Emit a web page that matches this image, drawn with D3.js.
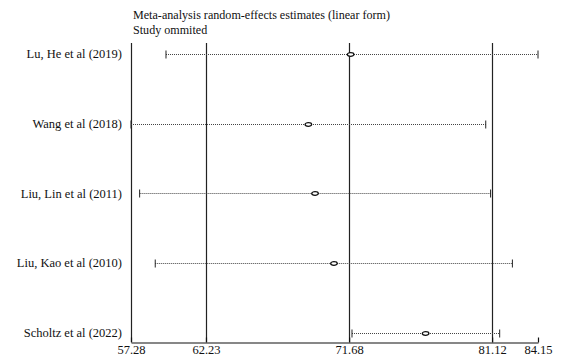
<!DOCTYPE html>
<html lang='en'>
  <head>
    <meta charset='utf-8'>
    <title>Study omitted</title>
    <script type='text/javascript' src='https://cdn.jsdelivr.net/npm/d3@7'></script>
    <style type='text/css'>
      body { margin: 0; background: white; }
      svg { display: block; background-color: white; font-family: 'Liberation Serif', 'DejaVu Serif', serif; }
    </style>
  </head>
  <body>
    <div id='chart'></div>
    <script type='text/javascript'>

    // Data
    var studies = ['Lu, He et al (2019)', 'Wang et al (2018)', 'Liu, Lin et al (2011)', 'Liu, Kao et al (2010)', 'Scholtz et al (2022)'];
    var estimates = [71.78, 68.99, 69.43, 70.68, 76.73];
    var lowers = [59.59, 57.28, 57.85, 58.88, 71.87];
    var uppers = [84.15, 80.70, 81.02, 82.46, 81.62];
    var refLines = [57.28, 62.23, 71.68, 81.12];
    var tickValues = [57.28, 62.23, 71.68, 81.12, 84.15];
    var titleLines = ['Meta-analysis random-effects estimates (linear form)', 'Study ommited'];

    // Dimensions
    var W = 571, H = 363;
    var margin = { top: 43, left: 131, right: 33, bottom: 21 };
    var plotBottom = H - margin.bottom;
    var fs = '12.5px';

    var svg = d3.select('#chart')
      .append('svg')
      .attr('width', W)
      .attr('height', H);

    // Scales
    var x = d3.scaleLinear()
      .domain([57.28, 84.15])
      .range([margin.left, W - margin.right]);

    var y = d3.scalePoint()
      .domain(studies)
      .range([54, 332.5]);

    // title
    svg.selectAll('text.title')
      .data(titleLines)
      .enter()
      .append('text')
      .attr('class', 'title')
      .attr('x', 133)
      .attr('y', function(d, i) { return 19 + i * 14.5; })
      .style('font-size', '12.1px')
      .attr('fill', '#111')
      .text(function(d) { return d; });

    // reference vertical lines
    svg.append('g').selectAll('line')
      .data(refLines)
      .enter()
      .append('line')
      .attr('x1', function(d) { return Math.round(x(d)) + 0.5; })
      .attr('x2', function(d) { return Math.round(x(d)) + 0.5; })
      .attr('y1', margin.top)
      .attr('y2', plotBottom)
      .attr('stroke', '#222')
      .attr('stroke-width', 1.2);

    // x axis
    var xAxis = d3.axisBottom(x)
      .tickValues(tickValues)
      .tickFormat(d3.format('.2f'))
      .tickSizeInner(-5)
      .tickSizeOuter(0);

    var gx = svg.append('g')
      .attr('transform', 'translate(0,' + (plotBottom + 0.5) + ')')
      .call(xAxis);
    gx.select('.domain').attr('stroke', '#111').attr('stroke-width', 1.2);
    gx.selectAll('.tick line').attr('stroke', '#111').attr('stroke-width', 1.2);
    gx.selectAll('.tick text')
      .attr('y', 3)
      .attr('dy', '0.71em')
      .attr('fill', '#111')
      .style('font-family', "'Liberation Serif', serif")
      .style('font-size', fs);

    // study labels
    svg.append('g').selectAll('text')
      .data(studies)
      .enter()
      .append('text')
      .attr('x', 122)
      .attr('y', function(d) { return y(d); })
      .attr('dy', '0.35em')
      .attr('text-anchor', 'end')
      .style('font-size', fs)
      .attr('fill', '#111')
      .text(function(d) { return d; });

    // confidence intervals
    var rows = svg.append('g').selectAll('g')
      .data(studies)
      .enter()
      .append('g')
      .attr('transform', function(d) { return 'translate(0,' + (Math.round(y(d)) + 0.5) + ')'; });

    rows.append('line')
      .attr('x1', function(d, i) { return x(lowers[i]); })
      .attr('x2', function(d, i) { return x(uppers[i]); })
      .attr('stroke', '#444')
      .attr('stroke-width', 1)
      .attr('stroke-dasharray', '1,1');

    rows.append('line')
      .attr('class', 'cap')
      .attr('x1', function(d, i) { return x(lowers[i]); })
      .attr('x2', function(d, i) { return x(lowers[i]); })
      .attr('y1', -4).attr('y2', 4)
      .attr('stroke', '#222');

    rows.append('line')
      .attr('class', 'cap')
      .attr('x1', function(d, i) { return x(uppers[i]); })
      .attr('x2', function(d, i) { return x(uppers[i]); })
      .attr('y1', -4).attr('y2', 4)
      .attr('stroke', '#222');

    rows.append('ellipse')
      .attr('cx', function(d, i) { return x(estimates[i]); })
      .attr('cy', 0)
      .attr('rx', 3.3)
      .attr('ry', 1.8)
      .attr('fill', 'white')
      .attr('stroke', '#111')
      .attr('stroke-width', 1.3);

    </script>
  </body>
</html>
